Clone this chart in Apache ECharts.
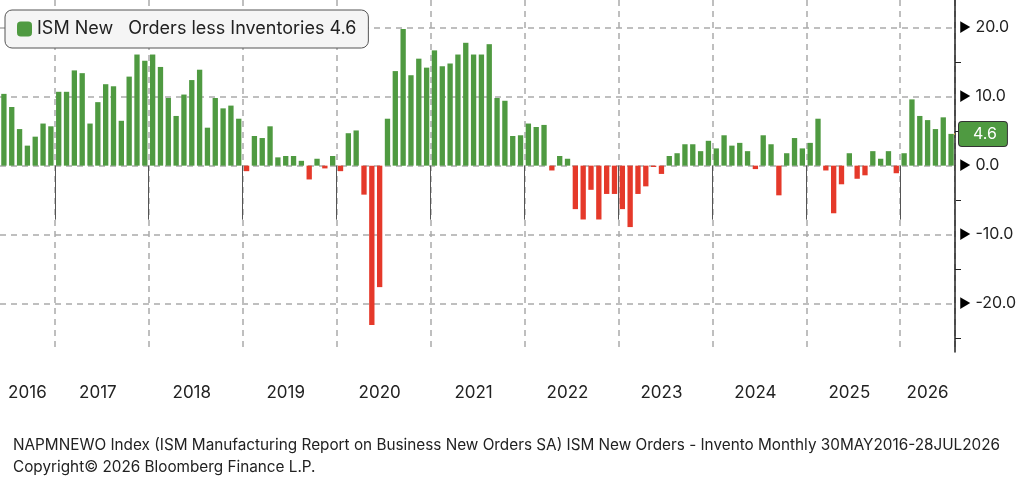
<!DOCTYPE html>
<html><head><meta charset="utf-8">
<script src="https://cdn.jsdelivr.net/npm/echarts@6/dist/echarts.min.js"></script>
<style>html,body{margin:0;padding:0;background:#fff}#c{width:1024px;height:484px}</style>
</head><body><div id="c"></div>
<script>
// Monthly, Jun 2016 .. Jul 2026
const startYear = 2016, startMonth = 6;
const values = [
 10.4,8.5,5.3,2.9,4.2,6.1,5.7,
 10.7,10.7,13.8,13.4,6.1,9.2,11.8,11.5,6.5,12.9,16.1,15.2,
 16.1,14.3,9.8,7.2,10.3,12.4,13.9,5.5,9.8,8.3,8.7,6.8,
 -0.8,4.3,4.0,5.7,1.2,1.4,1.4,0.7,-2.0,1.0,-0.4,1.4,
 -0.8,4.7,5.1,-4.2,-23.1,-17.6,6.8,13.7,19.8,13.1,15.5,14.2,
 16.7,14.4,14.8,16.1,17.8,16.1,16.1,17.6,9.8,9.4,4.3,4.4,
 6.1,5.6,5.9,-0.7,1.4,1.0,-6.3,-7.8,-3.5,-7.8,-4.1,-4.1,
 -6.3,-8.9,-4.1,-3.0,-0.2,-1.2,1.4,1.8,3.1,3.1,2.1,3.6,
 2.5,4.4,2.9,3.3,2.1,-0.5,4.4,3.1,-4.3,1.8,4.0,2.5,
 3.3,6.8,-0.7,-6.9,-2.7,1.8,-1.9,-1.4,2.1,1.0,2.1,-1.1,
 1.8,9.6,7.2,6.6,5.3,7.0,4.6
];
const lastValue = 4.6;
const yTicks = [-20,-10,0,10,20];
const yMinorTicks = [-25,-15,-5,5,15];
const yearLabels = ['2016','2017','2018','2019','2020','2021','2022','2023','2024','2025','2026'];
const legendName = 'ISM New   Orders less Inventories 4.6';
const footer1 = 'NAPMNEWO Index (ISM Manufacturing Report on Business New Orders SA) ISM New Orders - Invento Monthly 30MAY2016-28JUL2026';
const footer2 = 'Copyright\u00A9 2026 Bloomberg Finance L.P.';
const GREEN = '#4f9a41', RED = '#e5392a';

const months = values.map((v,i)=>{const m=(startMonth-1+i)%12;const y=startYear+Math.floor((startMonth-1+i)/12);return {y,m};});
const cats = months.map(o=>o.y+'-'+(o.m+1));
const labelIdx = {};
yearLabels.forEach(yl=>{const idx=months.map((o,i)=>o.y==+yl?i:-1).filter(i=>i>=0);labelIdx[idx[Math.floor((idx.length-1)/2)]]=yl;});

const chart = echarts.init(document.getElementById('c'));
const font = 'Inter, "Noto Sans", sans-serif';
chart.setOption({
  animation:false,
  textStyle:{fontFamily:font},
  grid:{left:0,right:69,top:0,bottom:132},
  title:{text:footer1+'\n'+footer2,left:8,top:429,textStyle:{fontSize:15.3,fontWeight:'normal',color:'#222',lineHeight:22,fontFamily:font}},
  legend:{left:5,top:10,itemWidth:15,itemHeight:15,padding:[10,12,10,12],backgroundColor:'#f5f5f5',borderColor:'#555',borderWidth:1,borderRadius:7,
    textStyle:{fontSize:18,color:'#222',fontFamily:font},data:[{name:legendName,itemStyle:{color:GREEN}}]},
  xAxis:{type:'category',data:cats,boundaryGap:true,
    axisLine:{show:false},
    axisTick:{show:true,interval:(i)=>months[i].m===0,length:54,lineStyle:{color:'#555',width:1}},
    axisLabel:{interval:(i)=>labelIdx[i]!==undefined,formatter:(v,i)=>labelIdx[i]||'',margin:32,fontSize:17,color:'#222'},
    splitLine:{show:true,interval:(i)=>months[i].m===0,lineStyle:{color:'#aaa',type:[6,5],width:1.5}}},
  yAxis:[{type:'value',position:'right',min:-27,max:24,
    axisLine:{show:true,lineStyle:{color:'#222',width:1.5}},
    axisTick:{show:false,customValues:yTicks},
    axisLabel:{customValues:yTicks,margin:4,fontSize:16,color:'#222',
      formatter:v=>'{a|\u25B6} '+v.toFixed(1),rich:{a:{fontSize:13,color:'#000'}}},
    splitLine:{show:true,lineStyle:{color:'#aaa',type:[6,5],width:1.5}},
    axisPointer:{show:true,value:lastValue,status:'show',triggerTooltip:false,lineStyle:{opacity:0},
      label:{show:true,formatter:p=>(+p.value).toFixed(1),backgroundColor:GREEN,color:'#fff',fontSize:16,padding:[4,10,4,14],borderColor:'#333',borderWidth:1,margin:4}}
  },{type:'value',position:'right',min:-27,max:24,
    axisLine:{show:false},axisLabel:{show:false},splitLine:{show:false},
    axisTick:{show:true,customValues:yMinorTicks,length:6,lineStyle:{color:'#222'}}}],
  series:[{name:legendName,type:'bar',barCategoryGap:'32%',
    data:values.map(v=>({value:v,itemStyle:{color:v<0?RED:GREEN}})),
    itemStyle:{color:GREEN}}]
});
const p0 = chart.convertToPixel({seriesIndex:0},[values.length-1,lastValue]);
const gw = chart.getWidth()-69;
chart.setOption({series:[{markLine:{silent:true,symbol:'none',label:{show:false},lineStyle:{color:'#f5c242',type:'solid',width:1.5},
  data:[[{x:p0[0]+3,y:p0[1]},{x:gw,y:p0[1]}]]}}]});
</script></body></html>
